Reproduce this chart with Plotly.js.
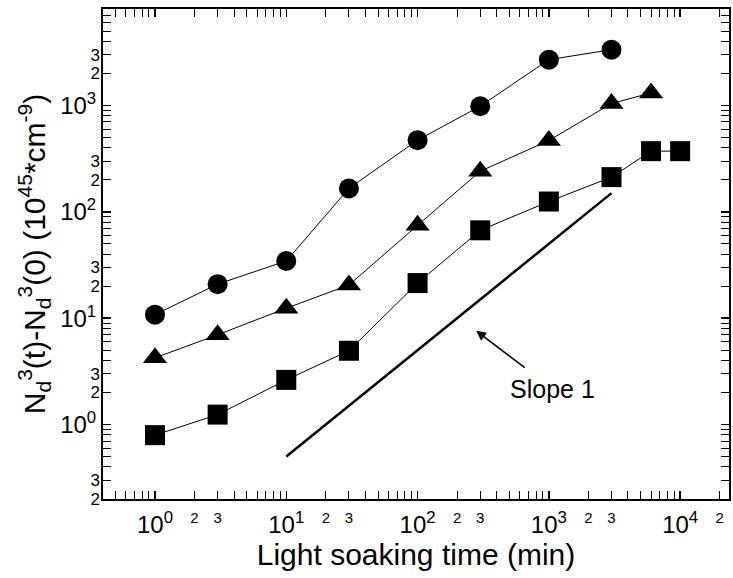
<!DOCTYPE html>
<html>
<head>
<meta charset="utf-8">
<script src="https://cdn.plot.ly/plotly-3.0.1.min.js"></script>
<style>html,body{margin:0;padding:0;background:#fff;}#chart{width:733px;height:578px;}</style>
</head>
<body>
<div id="chart"></div>
<script>
// ---- data ----
const circleTimes = [1, 3, 10, 30, 100, 300, 1000, 3000];
const circleVals  = [10.8, 20.9, 34.5, 166, 472, 984, 2697, 3345];

const triTimes = [1, 3, 10, 30, 100, 300, 1000, 3000, 6000];
const triVals  = [4.24, 6.98, 12.4, 20.5, 74.7, 241, 468, 1042, 1313];

const sqTimes = [1, 3, 10, 30, 100, 300, 1000, 3000, 6000, 10000];
const sqVals  = [0.795, 1.24, 2.63, 4.94, 21.4, 67, 125, 212, 372, 372];

const slopeTimes = [10, 3000];
const slopeVals  = [0.5, 150];

// tick labels
const xMajorVals = [1, 10, 100, 1000, 10000];
const xMajorText = ['10<sup>0</sup>', '10<sup>1</sup>', '10<sup>2</sup>', '10<sup>3</sup>', '10<sup>4</sup>'];
const xMinorLabVals = [2, 3, 20, 30, 200, 300, 2000, 3000, 20000];
const xMinorLabText = ['2', '3', '2', '3', '2', '3', '2', '3', '2'];

const yMajorVals = [1, 10, 100, 1000];
const yMajorText = ['10<sup>0</sup>', '10<sup>1</sup>', '10<sup>2</sup>', '10<sup>3</sup>'];
const yMinorLabVals = [0.2, 0.3, 2, 3, 20, 30, 200, 300, 2000, 3000];
const yMinorLabText = ['2', '3', '2', '3', '2', '3', '2', '3', '2', '3'];

function minorTicks(lo, hi) {
  const out = [];
  for (let d = lo; d <= hi; d++) {
    for (let m = 2; m <= 9; m++) out.push(m * Math.pow(10, d));
  }
  return out;
}
const xMinorTickVals = minorTicks(-1, 4);
const yMinorTickVals = minorTicks(-1, 3);

const FONT = 'Liberation Sans, Arial, sans-serif';
const xRange = [-0.396, 4.372];
const yRange = [-0.7, 3.907];

const lineStyle = {color: 'black', width: 1};
const traces = [
  {x: circleTimes, y: circleVals, mode: 'lines+markers', line: lineStyle,
   marker: {symbol: 'circle', size: 20, color: 'black'}},
  {x: triTimes, y: triVals, mode: 'lines+markers', line: lineStyle,
   marker: {symbol: 'triangle-up', size: 21, color: 'black'}},
  {x: sqTimes, y: sqVals, mode: 'lines+markers', line: lineStyle,
   marker: {symbol: 'square', size: 20, color: 'black'}},
  {x: slopeTimes, y: slopeVals, mode: 'lines', line: {color: 'black', width: 2.5}},
  // invisible traces so the overlay label axes are drawn
  {x: [1], y: [1], xaxis: 'x2', yaxis: 'y', mode: 'markers', marker: {opacity: 0}, hoverinfo: 'skip'},
  {x: [1], y: [1], xaxis: 'x', yaxis: 'y2', mode: 'markers', marker: {opacity: 0}, hoverinfo: 'skip'}
];

const commonAxis = {
  type: 'log', showgrid: false, zeroline: false,
  showline: true, linecolor: 'black', linewidth: 2, mirror: 'allticks',
  ticks: 'inside', ticklen: 8, tickwidth: 1.5, tickcolor: 'black',
  tickmode: 'array', tickfont: {family: FONT, size: 24, color: 'black'}
};

const layout = {
  width: 733, height: 578,
  margin: {l: 103, r: 4, t: 9, b: 79},
  paper_bgcolor: 'white', plot_bgcolor: 'white',
  showlegend: false,
  font: {family: FONT, color: 'black'},
  xaxis: Object.assign({}, commonAxis, {
    range: xRange, tickvals: xMajorVals, ticktext: xMajorText, ticklabelstandoff: 3,
    minor: {tickmode: 'array', tickvals: xMinorTickVals, ticks: 'inside', ticklen: 4, tickwidth: 1, tickcolor: 'black'},
    title: {text: 'Light soaking time (min)', font: {family: FONT, size: 30, color: 'black'}, standoff: 6}
  }),
  xaxis2: {
    type: 'log', overlaying: 'x', anchor: 'y', side: 'bottom', range: xRange,
    showgrid: false, zeroline: false, showline: false, ticks: '',
    tickmode: 'array', tickvals: xMinorLabVals, ticktext: xMinorLabText, ticklabelstandoff: 8,
    tickfont: {family: FONT, size: 15, color: 'black'}
  },
  yaxis: Object.assign({}, commonAxis, {
    range: yRange, tickvals: yMajorVals, ticktext: yMajorText,
    minor: {tickmode: 'array', tickvals: yMinorTickVals, ticks: 'inside', ticklen: 4, tickwidth: 1, tickcolor: 'black'},
    title: {text: 'N<sub>d</sub><sup>3</sup>(t)-N<sub>d</sub><sup>3</sup>(0) (10<sup>45</sup>*cm<sup>-9</sup>)',
            font: {family: FONT, size: 30, color: 'black'}, standoff: 6}
  }),
  yaxis2: {
    type: 'log', overlaying: 'y', anchor: 'x', side: 'left', range: yRange,
    showgrid: false, zeroline: false, showline: false, ticks: '',
    tickmode: 'array', tickvals: yMinorLabVals, ticktext: yMinorLabText, ticklabelstandoff: 2,
    tickfont: {family: FONT, size: 17, color: 'black'}
  },
  annotations: [
    {x: 2.447, y: 0.881, xref: 'x', yref: 'y', ax: 50, ay: 38, text: '',
     showarrow: true, arrowhead: 2, arrowsize: 1.3, arrowwidth: 1.5, arrowcolor: 'black'},
    {x: 3.031, y: 0.335, xref: 'x', yref: 'y', text: 'Slope 1', showarrow: false,
     font: {family: FONT, size: 25, color: 'black'}}
  ]
};

Plotly.newPlot('chart', traces, layout, {staticPlot: true, displayModeBar: false});
</script>
</body>
</html>
